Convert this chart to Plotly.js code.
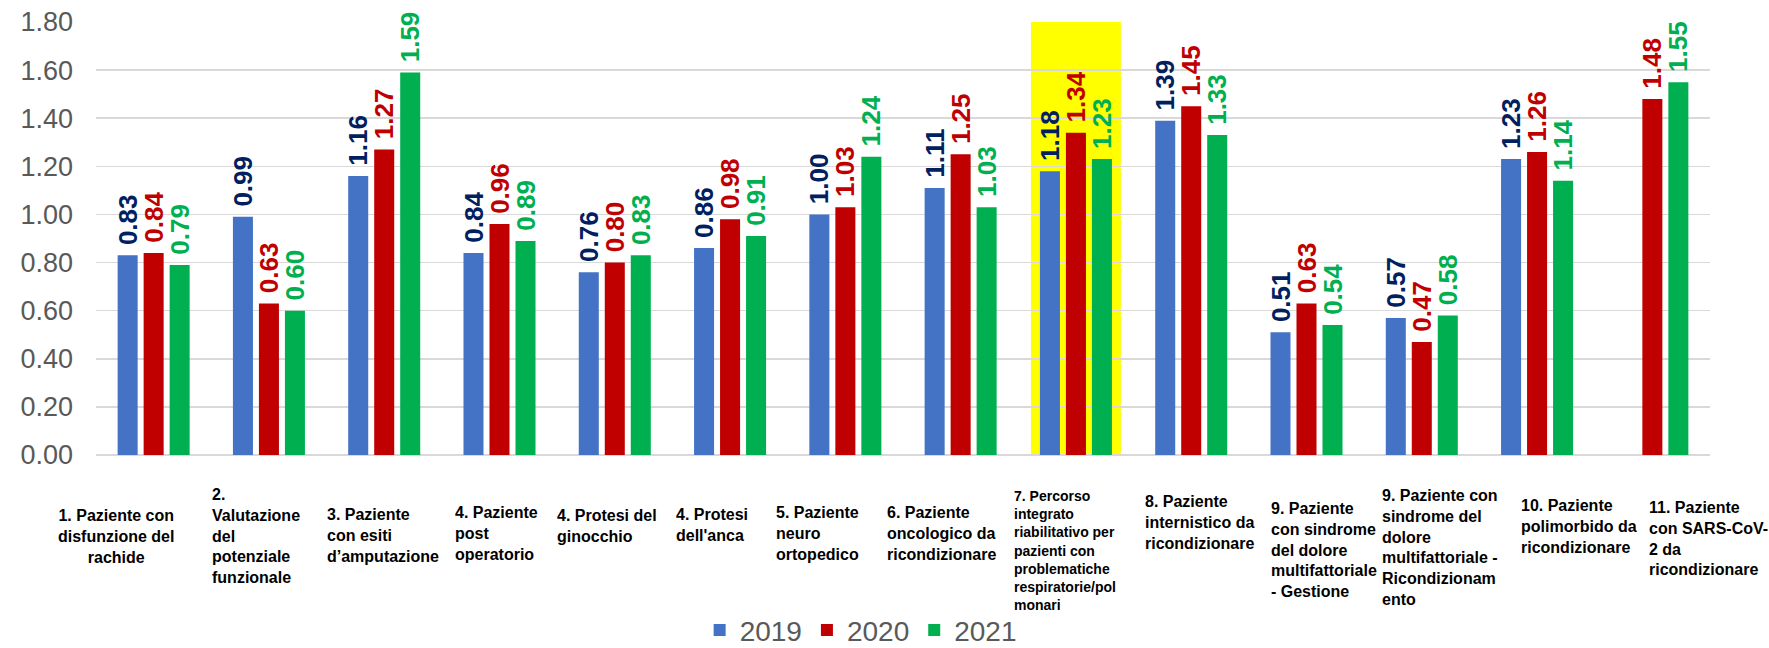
<!DOCTYPE html>
<html>
<head>
<meta charset="utf-8">
<script src="https://cdn.plot.ly/plotly-3.0.1.min.js"></script>
<style>html,body{margin:0;padding:0;background:#fff;}#chart{width:1769px;height:648px;}</style>
</head>
<body>
<div id="chart"></div>
<script>
// ---- data ----
const categories = [
  "1. Paziente con<br>disfunzione del<br>rachide",
  "2.<br>Valutazione<br>del<br>potenziale<br>funzionale",
  "3. Paziente<br>con esiti<br>d’amputazione",
  "4. Paziente<br>post<br>operatorio",
  "4. Protesi del<br>ginocchio",
  "4. Protesi<br>dell'anca",
  "5. Paziente<br>neuro<br>ortopedico",
  "6. Paziente<br>oncologico da<br>ricondizionare",
  "7. Percorso<br>integrato<br>riabilitativo per<br>pazienti con<br>problematiche<br>respiratorie/pol<br>monari",
  "8. Paziente<br>internistico da<br>ricondizionare",
  "9. Paziente<br>con sindrome<br>del dolore<br>multifattoriale<br>- Gestione",
  "9. Paziente con<br>sindrome del<br>dolore<br>multifattoriale -<br>Ricondizionam<br>ento",
  "10. Paziente<br>polimorbido da<br>ricondizionare",
  "11. Paziente<br>con SARS-CoV-<br>2 da<br>ricondizionare"
];
const seriesNames = ["2019", "2020", "2021"];
const values2019 = [0.83, 0.99, 1.16, 0.84, 0.76, 0.86, 1.00, 1.11, 1.18, 1.39, 0.51, 0.57, 1.23, null];
const values2020 = [0.84, 0.63, 1.27, 0.96, 0.80, 0.98, 1.03, 1.25, 1.34, 1.45, 0.63, 0.47, 1.26, 1.48];
const values2021 = [0.79, 0.60, 1.59, 0.89, 0.83, 0.91, 1.24, 1.03, 1.23, 1.33, 0.54, 0.58, 1.14, 1.55];
const highlightedCategory = 8;

// ---- styling / layout helpers (not data) ----
const barColors = ["#4472C4", "#C00000", "#00B050"];
const labelColors = ["#002060", "#C00000", "#00B050"];
const labelShift = [-38, -59, -59, -47, -60, -56, -71, -76, -64, -48, -38, -42, -18, -5];
const labelTop = [505, 484, 504, 502, 505, 504, 502, 502, 486, 491, 498, 485, 495, 497];
const labelFontSize = [16, 16, 16, 16, 16, 16, 16, 16, 14, 16, 16, 16, 16, 16];
const FONT = "Liberation Sans, Arial, sans-serif";
const plotBottom = 455;

const allValues = [values2019, values2020, values2021];
const traces = allValues.map((vals, k) => ({
  type: "bar",
  name: seriesNames[k],
  x: categories,
  y: vals,
  marker: {color: barColors[k]},
  text: vals.map(v => v == null ? "" : "\u00A0" + v.toFixed(2)),
  textposition: "outside",
  textangle: -90,
  constraintext: "none",
  cliponaxis: false,
  textfont: {family: FONT, size: 26, color: labelColors[k], weight: "bold"},
  hoverinfo: "x+y"
}));

const annotations = categories.map((c, i) => ({
  xref: "x", yref: "paper",
  x: i, y: 0,
  xshift: labelShift[i],
  yshift: -(labelTop[i] - plotBottom),
  xanchor: i === 0 ? "center" : "left",
  yanchor: "top",
  align: i === 0 ? "center" : "left",
  showarrow: false,
  text: "<b>" + c + "</b>",
  font: {family: FONT, size: labelFontSize[i], color: "#000000"}
}));

const layout = {
  width: 1769, height: 648,
  margin: {l: 96, r: 59, t: 22, b: 193, autoexpand: false},
  paper_bgcolor: "#ffffff",
  plot_bgcolor: "#ffffff",
  barmode: "group",
  bargap: 0.3235,
  bargroupgap: 0.23,
  font: {family: FONT},
  showlegend: true,
  legend: {
    orientation: "h",
    x: 0.374, xanchor: "left",
    y: -0.405, yanchor: "middle",
    font: {family: FONT, size: 28, color: "#595959"},
    bgcolor: "rgba(0,0,0,0)"
  },
  xaxis: {
    type: "category",
    range: [-0.5, categories.length - 0.5],
    autorange: false,
    showticklabels: false,
    ticks: "",
    showgrid: false,
    showline: false,
    zeroline: false
  },
  yaxis: {
    range: [0, 1.8],
    autorange: false,
    dtick: 0.2,
    tick0: 0,
    tickformat: ".2f",
    showgrid: true,
    gridcolor: "#D9D9D9",
    gridwidth: 1.5,
    zeroline: true,
    zerolinecolor: "#D9D9D9",
    zerolinewidth: 1.5,
    showline: false,
    ticks: "",
    ticklabelstandoff: 22,
    tickfont: {family: FONT, size: 27, color: "#595959"}
  },
  shapes: [{
    type: "rect", layer: "below",
    xref: "x", yref: "y",
    x0: highlightedCategory - 0.39, x1: highlightedCategory + 0.39,
    y0: 0, y1: 1.822,
    fillcolor: "#FFFF00",
    line: {width: 0}
  }],
  annotations: annotations
};

Plotly.newPlot("chart", traces, layout, {displayModeBar: false, staticPlot: true});
</script>
</body>
</html>
